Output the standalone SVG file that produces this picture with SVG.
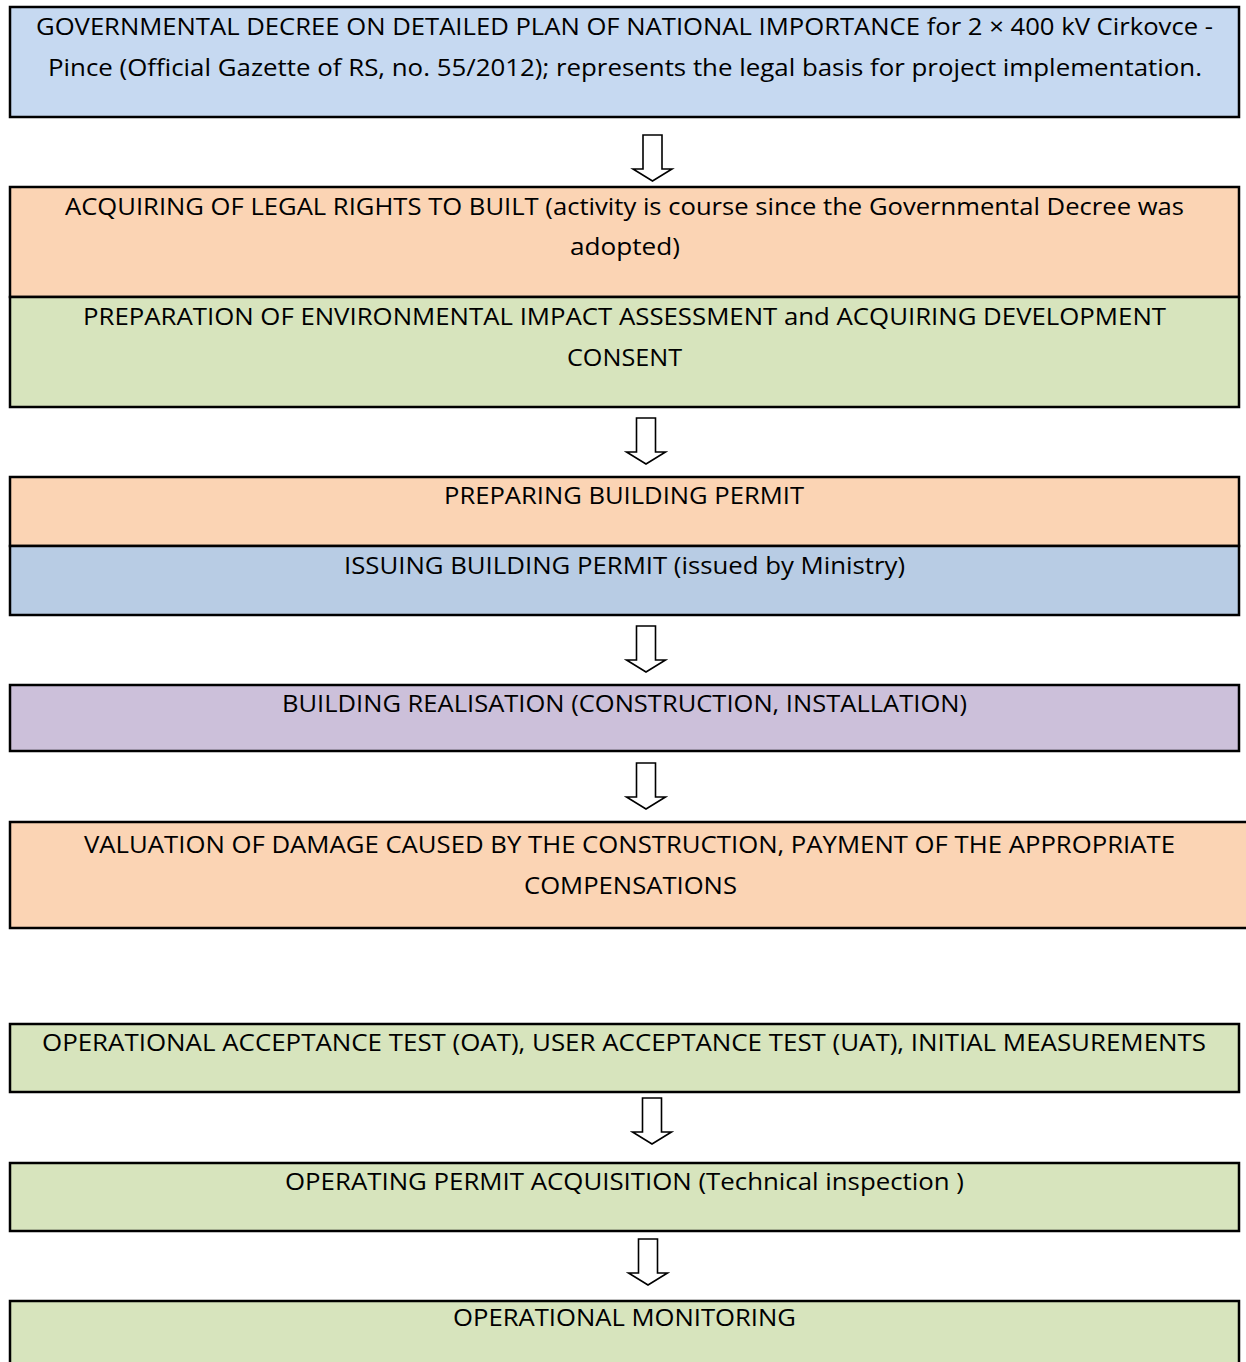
<svg xmlns="http://www.w3.org/2000/svg" xmlns:xlink="http://www.w3.org/1999/xlink" width="1246" height="1362" viewBox="0 0 1246 1362">
<style>
.box{stroke:#000;stroke-width:2.5}
.div{stroke:#000;stroke-width:2}
.t{font-family:"Open Sans","Liberation Sans",sans-serif;font-size:23px;fill:#000;text-anchor:middle}
.blue{fill:#c6d9f1}.orange{fill:#fbd4b4}.green{fill:#d7e4bd}.blue2{fill:#b8cce4}.purple{fill:#ccc0da}
.arr{fill:#fff;stroke:#000;stroke-width:1.6;stroke-linejoin:miter}
</style>
<defs>
<path id="arrow" class="arr" d="M-9.5,0 H9.5 V34 H19.5 L0,46 L-19.5,34 H-9.5 Z"/>
</defs>
<rect width="1246" height="1362" fill="#fff"/>
<g id="connectors">
<use xlink:href="#arrow" transform="translate(652.5,135)"/>
<use xlink:href="#arrow" transform="translate(646,418)"/>
<use xlink:href="#arrow" transform="translate(646,626)"/>
<use xlink:href="#arrow" transform="translate(646,763)"/>
<use xlink:href="#arrow" transform="translate(652,1098)"/>
<use xlink:href="#arrow" transform="translate(648,1239)"/>
</g>
<g id="decree">
<rect class="box blue" x="10" y="7" width="1229" height="110"/>
<text class="t" x="624.5" y="35" textLength="1177" lengthAdjust="spacingAndGlyphs">GOVERNMENTAL DECREE ON DETAILED PLAN OF NATIONAL IMPORTANCE for 2 × 400 kV Cirkovce -</text>
<text class="t" x="625" y="76" textLength="1154" lengthAdjust="spacingAndGlyphs">Pince (Official Gazette of RS, no. 55/2012); represents the legal basis for project implementation.</text>
</g>
<g id="legal-rights">
<rect class="box orange" x="10" y="187" width="1229" height="110"/>
<text class="t" x="624.5" y="215" textLength="1119" lengthAdjust="spacingAndGlyphs">ACQUIRING OF LEGAL RIGHTS TO BUILT (activity is course since the Governmental Decree was</text>
<text class="t" x="625" y="255" textLength="110" lengthAdjust="spacingAndGlyphs">adopted)</text>
</g>
<g id="eia">
<rect class="box green" x="10" y="297" width="1229" height="110"/>
<line class="div" x1="10" y1="297" x2="1239" y2="297"/>
<text class="t" x="624.5" y="325" textLength="1083" lengthAdjust="spacingAndGlyphs">PREPARATION OF ENVIRONMENTAL IMPACT ASSESSMENT and ACQUIRING DEVELOPMENT</text>
<text class="t" x="624.5" y="366" textLength="115" lengthAdjust="spacingAndGlyphs">CONSENT</text>
</g>
<g id="preparing-permit">
<rect class="box orange" x="10" y="477" width="1229" height="69"/>
<text class="t" x="624" y="504" textLength="360" lengthAdjust="spacingAndGlyphs">PREPARING BUILDING PERMIT</text>
</g>
<g id="issuing-permit">
<rect class="box blue2" x="10" y="546" width="1229" height="69"/>
<text class="t" x="624.5" y="574" textLength="561" lengthAdjust="spacingAndGlyphs">ISSUING BUILDING PERMIT (issued by Ministry)</text>
</g>
<g id="realisation">
<rect class="box purple" x="10" y="685" width="1229" height="66"/>
<text class="t" x="624.5" y="712" textLength="685" lengthAdjust="spacingAndGlyphs">BUILDING REALISATION (CONSTRUCTION, INSTALLATION)</text>
</g>
<g id="valuation">
<rect class="box orange" x="10" y="822" width="1240" height="106"/>
<text class="t" x="629.5" y="853" textLength="1091" lengthAdjust="spacingAndGlyphs">VALUATION OF DAMAGE CAUSED BY THE CONSTRUCTION, PAYMENT OF THE APPROPRIATE</text>
<text class="t" x="630.5" y="894" textLength="213" lengthAdjust="spacingAndGlyphs">COMPENSATIONS</text>
</g>
<g id="acceptance-test">
<rect class="box green" x="10" y="1024" width="1229" height="68"/>
<text class="t" x="624" y="1051" textLength="1164" lengthAdjust="spacingAndGlyphs">OPERATIONAL ACCEPTANCE TEST (OAT), USER ACCEPTANCE TEST (UAT), INITIAL MEASUREMENTS</text>
</g>
<g id="operating-permit">
<rect class="box green" x="10" y="1163" width="1229" height="68"/>
<text class="t" x="624.5" y="1190" textLength="679" lengthAdjust="spacingAndGlyphs">OPERATING PERMIT ACQUISITION (Technical inspection )</text>
</g>
<g id="monitoring">
<rect class="box green" x="10" y="1301" width="1229" height="70"/>
<text class="t" x="624.5" y="1326" textLength="343" lengthAdjust="spacingAndGlyphs">OPERATIONAL MONITORING</text>
</g>
</svg>
